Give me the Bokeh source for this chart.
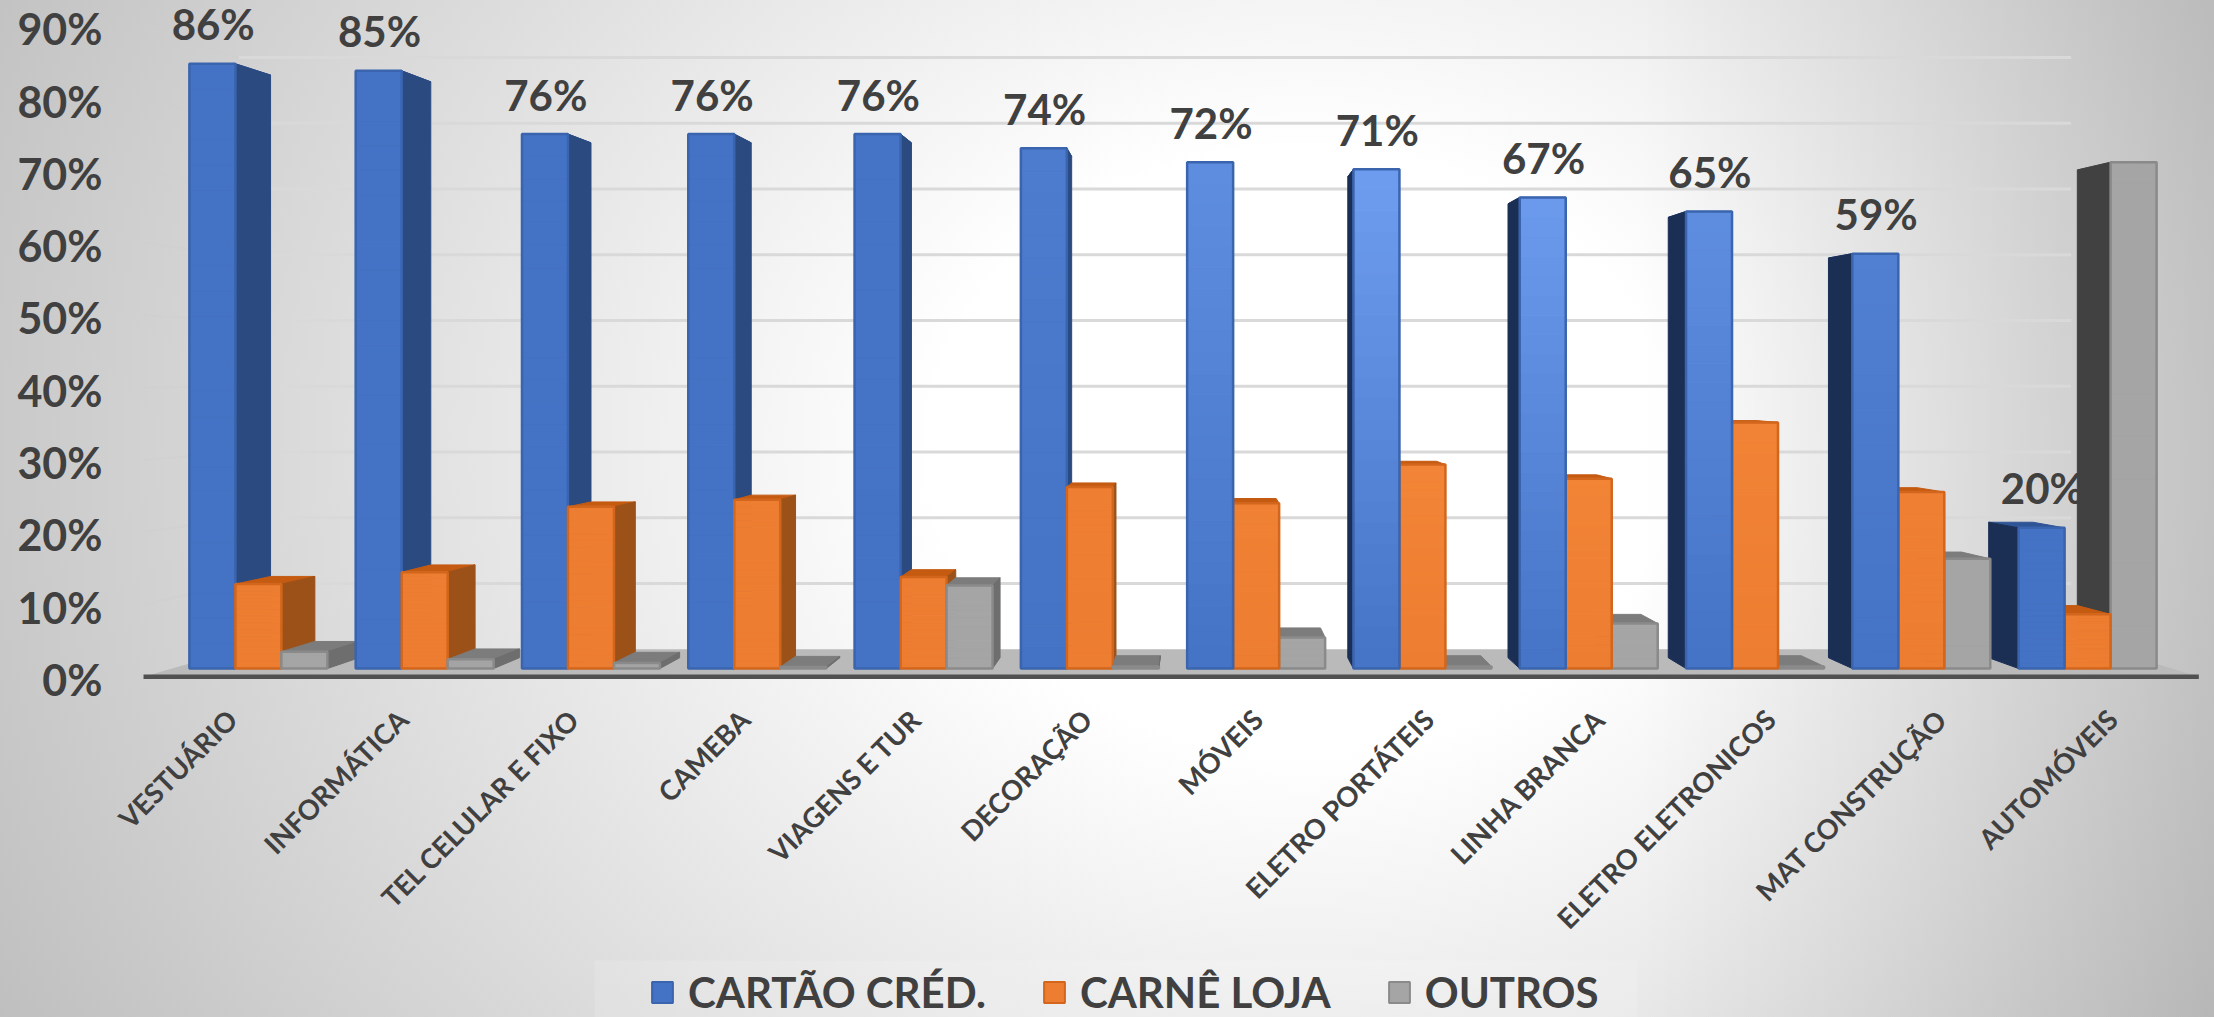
from math import pi

from bokeh.embed import file_html
from bokeh.layouts import column
from bokeh.models import (ColumnDataSource, FixedTicker, Legend, LegendItem, LinearAxis,
                          PrintfTickFormatter, Range1d)
from bokeh.plotting import figure
from bokeh.resources import INLINE

categories = ["VESTUÁRIO", "INFORMÁTICA", "TEL CELULAR E FIXO", "CAMEBA", "VIAGENS E TUR", "DECORAÇÃO",
              "MÓVEIS", "ELETRO PORTÁTEIS", "LINHA BRANCA", "ELETRO ELETRONICOS", "MAT CONSTRUÇÃO", "AUTOMÓVEIS"]
cartao = [86, 85, 76, 76, 76, 74, 72, 71, 67, 65, 59, 20]
carne = [12, 13.7, 23, 24, 13, 25.8, 23.5, 29, 27, 35, 25.1, 7.7]
outros = [2.4, 1.3, 0.8, 0.2, 11.8, 0.3, 4.4, 0.3, 6.4, 0.3, 15.6, 72]
y_ticks = [0, 10, 20, 30, 40, 50, 60, 70, 80, 90]
series_names = ["CARTÃO CRÉD.", "CARNÊ LOJA", "OUTROS"]

# Projection of the 3D box: one vanishing point, with planes at several depths.
VX, VY = 6.07, 41.95
K_FRONT, K_BAR_BACK, K_WALL = 1.028, 0.9635, 0.935
BAR_W = 0.2766
FLOOR_L, FLOOR_R = -0.103, 11.92
GRID_R = 11.68
X_START, X_END = -0.294, 12.178
Y_START, Y_END = -2.275, 95.0
LABEL_GAP = 5.6
TEXT = "#404040"

# Glow on the front faces, strongest around the middle-right groups.
sheen = [0, 0, 0, 0, 0.03, 0.2, 0.6, 0.95, 0.95, 0.65, 0.35, 0]

styles = [
    dict(front="#4472C4", light="#6F9EF0", edge="#3A64AE", top="#2F5597", right="#2A4A80", left="#1B2F55"),
    dict(front="#ED7D31", light="#FA9040", edge="#D2661C", top="#C55A11", right="#9C5118", left="#9C5118"),
    dict(front="#A5A5A5", light="#A5A5A5", edge="#8A8A8A", top="#7C7C7C", right="#6E6E6E", left="#414141"),
]


def project(x, y, k):
    return VX + (x - VX) * k, VY + (y - VY) * k


def poly(points, k_values):
    pts = [project(x, y, k) for (x, y), k in zip(points, k_values)]
    return [p[0] for p in pts], [p[1] for p in pts]


def mix(a, b, t):
    ca = [int(a[i:i + 2], 16) for i in (1, 3, 5)]
    cb = [int(b[i:i + 2], 16) for i in (1, 3, 5)]
    return "#%02x%02x%02x" % tuple(round(u + (v - u) * t) for u, v in zip(ca, cb))


faces = dict(xs=[], ys=[], fill=[], falpha=[], line=[], lwidth=[])


def add_face(points, ks, fill, line, width, alpha=1.0):
    xs, ys = poly(points, ks)
    faces["xs"].append(xs)
    faces["ys"].append(ys)
    faces["fill"].append(fill)
    faces["falpha"].append(alpha)
    faces["line"].append(line)
    faces["lwidth"].append(width)


def add_bar(group, slot, height):
    style = styles[slot]
    x0 = group + slot * BAR_W
    x1 = x0 + BAR_W
    K = K_BAR_BACK
    add_face([(x0, height), (x1, height), (x1, height), (x0, height)], [1, 1, K, K], style["top"], style["top"], 1)
    if x1 < VX:
        add_face([(x1, 0), (x1, height), (x1, height), (x1, 0)], [1, 1, K, K], style["right"], style["right"], 1)
    elif x0 > VX:
        add_face([(x0, 0), (x0, height), (x0, height), (x0, 0)], [1, 1, K, K], style["left"], style["left"], 1)
    steps = 24
    for n in range(steps):
        y0, y1 = height * n / steps, height * (n + 1) / steps
        t = sheen[group] * min(1.0, y1 / 70)
        colour = mix(style["front"], style["light"], t)
        add_face([(x0, y0), (x1, y0), (x1, y1), (x0, y1)], [1, 1, 1, 1], colour, colour, 1)
    add_face([(x0, 0), (x1, 0), (x1, height), (x0, height)], [1, 1, 1, 1], style["front"], style["edge"], 2.5, 0.0)


values = [cartao, carne, outros]
# Painter's order: groups furthest from the vanishing point go first.
for g in sorted(range(len(categories)), key=lambda i: -abs(i + 0.41 - VX)):
    slots = [0, 1, 2] if g + 0.41 < VX else [2, 1, 0]
    for s in slots:
        add_bar(g, s, values[s][g])

p = figure(width=2214, height=950, output_backend="svg", toolbar_location=None,
           x_range=Range1d(X_START, X_END), y_range=Range1d(Y_START, Y_END),
           x_axis_location=None, y_axis_location=None,
           min_border_left=140, min_border_right=0, min_border_top=0, min_border_bottom=266,
           background_fill_color=None, border_fill_color=None, outline_line_color=None)
p.grid.visible = False

# Axes sit on the front edge of the floor, so their ranges are the inverse projection of the frame.
p.extra_y_ranges = {"front_y": Range1d((Y_START - VY) / K_FRONT + VY + 0.35, (Y_END - VY) / K_FRONT + VY + 0.35)}
p.extra_x_ranges = {"front_x": Range1d((X_START - VX) / K_FRONT + VX - (0.5 * BAR_W * 3),
                                       (X_END - VX) / K_FRONT + VX - (0.5 * BAR_W * 3))}

y_axis = LinearAxis(y_range_name="front_y", ticker=FixedTicker(ticks=y_ticks),
                    formatter=PrintfTickFormatter(format="%d%%"))
y_axis.axis_line_color = None
y_axis.major_tick_line_color = None
y_axis.minor_tick_line_color = None
y_axis.major_label_standoff = 32
y_axis.major_label_text_font = "Lato"
y_axis.major_label_text_font_style = "bold"
y_axis.major_label_text_font_size = "43px"
y_axis.major_label_text_color = TEXT
p.add_layout(y_axis, "left")

x_axis = LinearAxis(x_range_name="front_x", ticker=FixedTicker(ticks=list(range(len(categories)))),
                    major_label_overrides={i: c for i, c in enumerate(categories)})
x_axis.axis_line_color = None
x_axis.major_tick_line_color = None
x_axis.minor_tick_line_color = None
x_axis.major_label_orientation = pi / 4
x_axis.major_label_standoff = 24
x_axis.major_label_text_font = "Lato"
x_axis.major_label_text_font_style = "bold"
x_axis.major_label_text_font_size = "27.5px"
x_axis.major_label_text_color = TEXT
p.add_layout(x_axis, "below")

# Floor of the box.
fx, fy = poly([(FLOOR_L, 0), (FLOOR_R, 0), (FLOOR_R, 0), (FLOOR_L, 0)], [K_FRONT, K_FRONT, K_WALL, K_WALL])
p.patch(fx, fy, fill_color="#BABABA", line_color=None)

# Gridlines on the back wall, and their faint continuation on the left wall.
grid_xs, grid_ys, side_xs, side_ys = [], [], [], []
for tick in y_ticks[1:]:
    gx, gy = poly([(FLOOR_L, tick), (GRID_R, tick)], [K_WALL, K_WALL])
    grid_xs.append(gx)
    grid_ys.append(gy)
    sx, sy = poly([(FLOOR_L, tick), (FLOOR_L, tick)], [K_FRONT, K_WALL])
    side_xs.append(sx)
    side_ys.append(sy)
p.multi_line(side_xs, side_ys, line_color="#cfcfcf", line_width=2, line_alpha=0.35)
p.multi_line(grid_xs, grid_ys, line_color="#d9d9d9", line_width=3)

# Value labels go under the bars: the tall last bar hides the end of its neighbour's label.
label_source = ColumnDataSource(dict(
    x=[i + BAR_W / 2 + 0.005 for i in range(len(categories))],
    y=[v + LABEL_GAP for v in cartao],
    text=["%d%%" % v for v in cartao],
))
p.text(x="x", y="y", text="text", source=label_source, text_align="center", text_baseline="middle",
       text_font={"value": "Lato"}, text_font_style="bold", text_font_size="42px", text_color=TEXT)

p.patches(xs="xs", ys="ys", source=ColumnDataSource(faces), fill_color="fill", fill_alpha="falpha",
          line_color="line", line_width="lwidth")

lx, ly = poly([(FLOOR_L, 0), (FLOOR_R, 0)], [K_FRONT, K_FRONT])
p.line(lx, ly, line_color="#505050", line_width=4.5)

# The legend lives in its own strip under the chart, on a slightly lighter panel.
# The column lines the strip's frame up with the chart's, which starts 140px in.
strip = figure(width=2214, height=67, output_backend="svg", toolbar_location=None,
               x_range=Range1d(140, 2214), y_range=Range1d(0, 67),
               x_axis_location=None, y_axis_location=None,
               min_border_left=140, min_border_right=0, min_border_top=0, min_border_bottom=0,
               background_fill_color=None, border_fill_color=None, outline_line_color=None)
strip.grid.visible = False
strip.quad(left=[594], right=[1637], bottom=[0], top=[57], fill_color="#ffffff", fill_alpha=0.14, line_color=None)

items = []
for name, style in zip(series_names, styles):
    # Swatch source: the quad sits left of the visible range, only its legend glyph shows.
    r = strip.quad(left=[0], right=[10], top=[10], bottom=[0], fill_color=style["front"], line_color=style["edge"],
                   line_width=2)
    items.append(LegendItem(label=name, renderers=[r]))
legend = Legend(items=items, orientation="horizontal", location=(509, 0), background_fill_alpha=0,
                border_line_color=None, glyph_width=26, glyph_height=26, label_standoff=13, spacing=55,
                padding=0, margin=0, label_text_font="Lato", label_text_font_style="bold",
                label_text_font_size="42px", label_text_color=TEXT, label_height=46)
strip.add_layout(legend, "center")

page = column(p, strip, width=2214, height=1017, spacing=0)
page.styles = {
    "background": "linear-gradient(to right, rgba(0,0,0,0) 74%, rgba(0,0,0,0.13) 100%), "
                  "radial-gradient(ellipse 1600px 1300px at 1300px 450px, #ffffff 0%, #ffffff 23%, #b8b8b8 100%)"
}

open("out.html", "w").write(file_html(page, INLINE))
